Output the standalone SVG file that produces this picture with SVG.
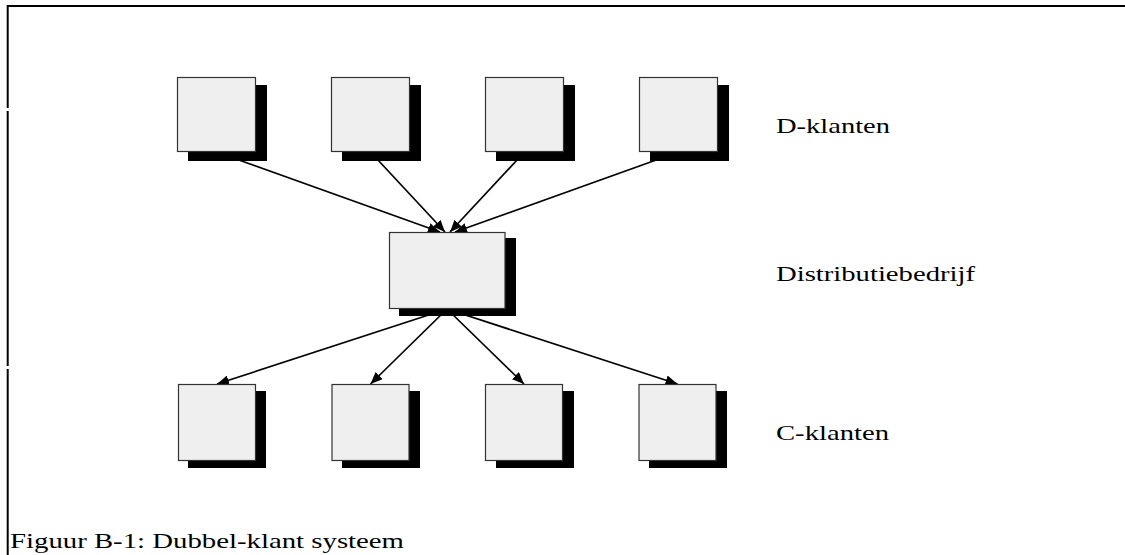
<svg xmlns="http://www.w3.org/2000/svg" width="1125" height="555" viewBox="0 0 1125 555">
  <style>
    .shadow { fill: #000; }
    .box { fill: #efefef; stroke: #333; stroke-width: 1.2; }
    .edge { stroke: #000; stroke-width: 1.7; fill: none; marker-end: url(#arrow); }
    .label { font-family: "Liberation Serif", "Times New Roman", serif; font-size: 22px; fill: #000; }
    .frame { stroke: #000; stroke-width: 2; fill: none; }
  </style>
  <defs>
    <marker id="arrow" viewBox="0 0 12 10" refX="12" refY="5" markerWidth="12" markerHeight="10" markerUnits="userSpaceOnUse" orient="auto">
      <path d="M0,0 L12,5 L0,10 z" fill="#000"/>
    </marker>
  </defs>

  <rect width="1125" height="555" fill="#fff"/>

  <!-- frame: top rule and broken left rule -->
  <g id="frame">
    <line class="frame" x1="7" y1="6" x2="1125" y2="6"/>
    <line class="frame" x1="7.7" y1="5" x2="7.7" y2="108"/>
    <line class="frame" x1="7.7" y1="111" x2="7.7" y2="366"/>
    <line class="frame" x1="7.7" y1="369" x2="7.7" y2="555"/>
  </g>

  <!-- connectors -->
  <g id="connectors">
    <line class="edge" x1="216.5" y1="152" x2="440" y2="232"/>
    <line class="edge" x1="370.5" y1="152" x2="445" y2="232"/>
    <line class="edge" x1="524.5" y1="152" x2="450" y2="232"/>
    <line class="edge" x1="678.5" y1="152" x2="455" y2="232"/>
    <line class="edge" x1="447" y1="309" x2="217" y2="384"/>
    <line class="edge" x1="447" y1="309" x2="370.5" y2="384"/>
    <line class="edge" x1="447" y1="309" x2="524" y2="384"/>
    <line class="edge" x1="447" y1="309" x2="677.5" y2="384"/>
  </g>

  <!-- D-klanten row -->
  <g id="d1"><rect class="shadow" x="188" y="85" width="79" height="76"/><rect class="box" x="177.5" y="77.5" width="78" height="74"/></g>
  <g id="d2"><rect class="shadow" x="342" y="85" width="79" height="76"/><rect class="box" x="331.5" y="77.5" width="78" height="74"/></g>
  <g id="d3"><rect class="shadow" x="496" y="85" width="79" height="76"/><rect class="box" x="485.5" y="77.5" width="78" height="74"/></g>
  <g id="d4"><rect class="shadow" x="650" y="85" width="79" height="76"/><rect class="box" x="639.5" y="77.5" width="78" height="74"/></g>

  <!-- Distributiebedrijf -->
  <g id="dist"><rect class="shadow" x="399" y="238" width="117" height="78"/><rect class="box" x="389.5" y="232.5" width="115.5" height="76"/></g>

  <!-- C-klanten row -->
  <g id="c1"><rect class="shadow" x="188" y="391" width="78" height="77"/><rect class="box" x="178.5" y="384.5" width="77" height="76"/></g>
  <g id="c2"><rect class="shadow" x="342" y="391" width="78" height="77"/><rect class="box" x="332" y="384.5" width="77" height="76"/></g>
  <g id="c3"><rect class="shadow" x="496" y="391" width="78" height="77"/><rect class="box" x="485.5" y="384.5" width="77" height="76"/></g>
  <g id="c4"><rect class="shadow" x="649" y="391" width="78" height="77"/><rect class="box" x="639" y="384.5" width="77" height="76"/></g>

  <!-- labels: text is set slightly wide -->
  <text class="label" x="776" y="133" textLength="114" lengthAdjust="spacingAndGlyphs">D-klanten</text>
  <text class="label" x="776" y="281" textLength="199" lengthAdjust="spacingAndGlyphs">Distributiebedrijf</text>
  <text class="label" x="776" y="440" textLength="113" lengthAdjust="spacingAndGlyphs">C-klanten</text>
  <text class="label" x="10" y="548" textLength="394" lengthAdjust="spacingAndGlyphs">Figuur B-1: Dubbel-klant systeem</text>
</svg>
